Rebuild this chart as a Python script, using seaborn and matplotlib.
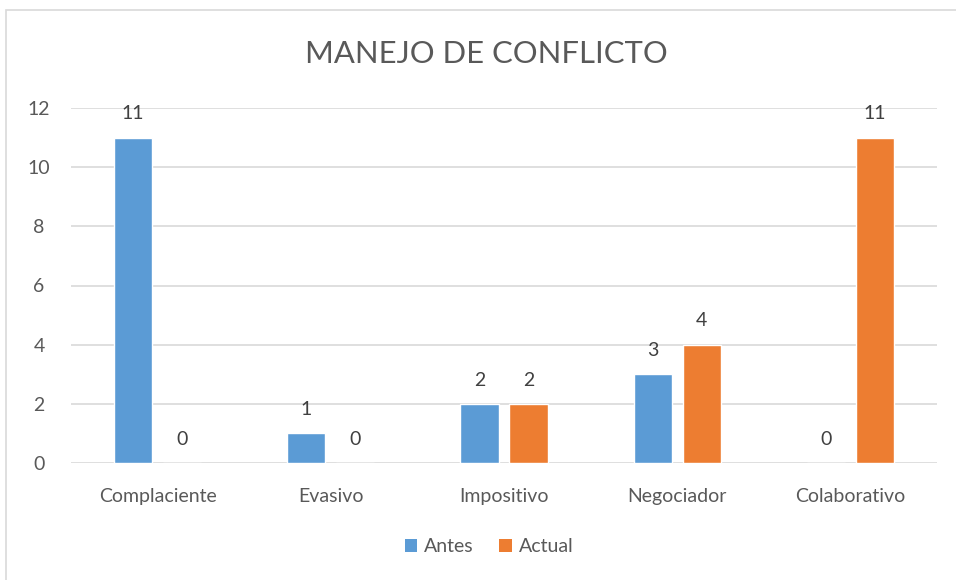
import matplotlib
matplotlib.use("Agg")
import matplotlib.pyplot as plt
import seaborn as sns
import pandas as pd
from matplotlib.patches import Rectangle, Patch

categories = ["Complaciente", "Evasivo", "Impositivo", "Negociador", "Colaborativo"]
antes = [11, 1, 2, 3, 0]
actual = [0, 0, 2, 4, 11]
series_names = ["Antes", "Actual"]
colors = ["#5B9BD5", "#ED7D31"]
title = "MANEJO DE CONFLICTO"

df = pd.DataFrame({
    "cat": categories * 2,
    "serie": [series_names[0]] * 5 + [series_names[1]] * 5,
    "val": antes + actual,
})

sns.set_theme(style="white")
plt.rcParams["font.family"] = ["Lato", "DejaVu Sans"]
txt = "#595959"
fs = 14

fig = plt.figure(figsize=(9.56, 5.8), dpi=100)
ax = fig.add_axes([71/956, 1-463/580, (937-71)/956, (463-108)/580])

sns.barplot(data=df, x="cat", y="val", hue="serie", palette=colors,
            width=0.566, gap=0.22, ax=ax, legend=False, saturation=1,
            order=categories, hue_order=series_names)

ax.set_ylim(0, 12)
ax.set_yticks(range(0, 13, 2))
ax.set_xlim(-0.5, 4.5)
ax.yaxis.grid(True, color="#d9d9d9", linewidth=1.2)
ax.set_axisbelow(True)
for s in ax.spines.values():
    s.set_visible(False)
ax.set_xlabel("")
ax.set_ylabel("")
ax.tick_params(axis="y", length=0, pad=23, labelsize=fs, labelcolor=txt)
ax.tick_params(axis="x", length=0, pad=18, labelsize=fs, labelcolor=txt)
for lab in ax.get_yticklabels():
    lab.set_horizontalalignment("center")

for cont in ax.containers:
    ax.bar_label(cont, padding=11, fontsize=fs, color="#404040")

fig.text(486/956, 1-54/580, title, ha="center", va="center", fontsize=22.3, color=txt)

handles = [Patch(facecolor=c, edgecolor="none") for c in colors]
fig.legend(handles, series_names, loc="center", bbox_to_anchor=(489/956, 1-547/580),
           ncol=2, frameon=False, fontsize=fs, labelcolor=txt, handlelength=0.65,
           handleheight=0.65, handletextpad=0.35, columnspacing=1.3)

fig.patches.append(Rectangle((6/956, -0.1), 1.2, (1-10/580)+0.1, transform=fig.transFigure,
                             fill=False, edgecolor="#d9d9d9", linewidth=1.2))

fig.savefig("out.png", dpi=100)
